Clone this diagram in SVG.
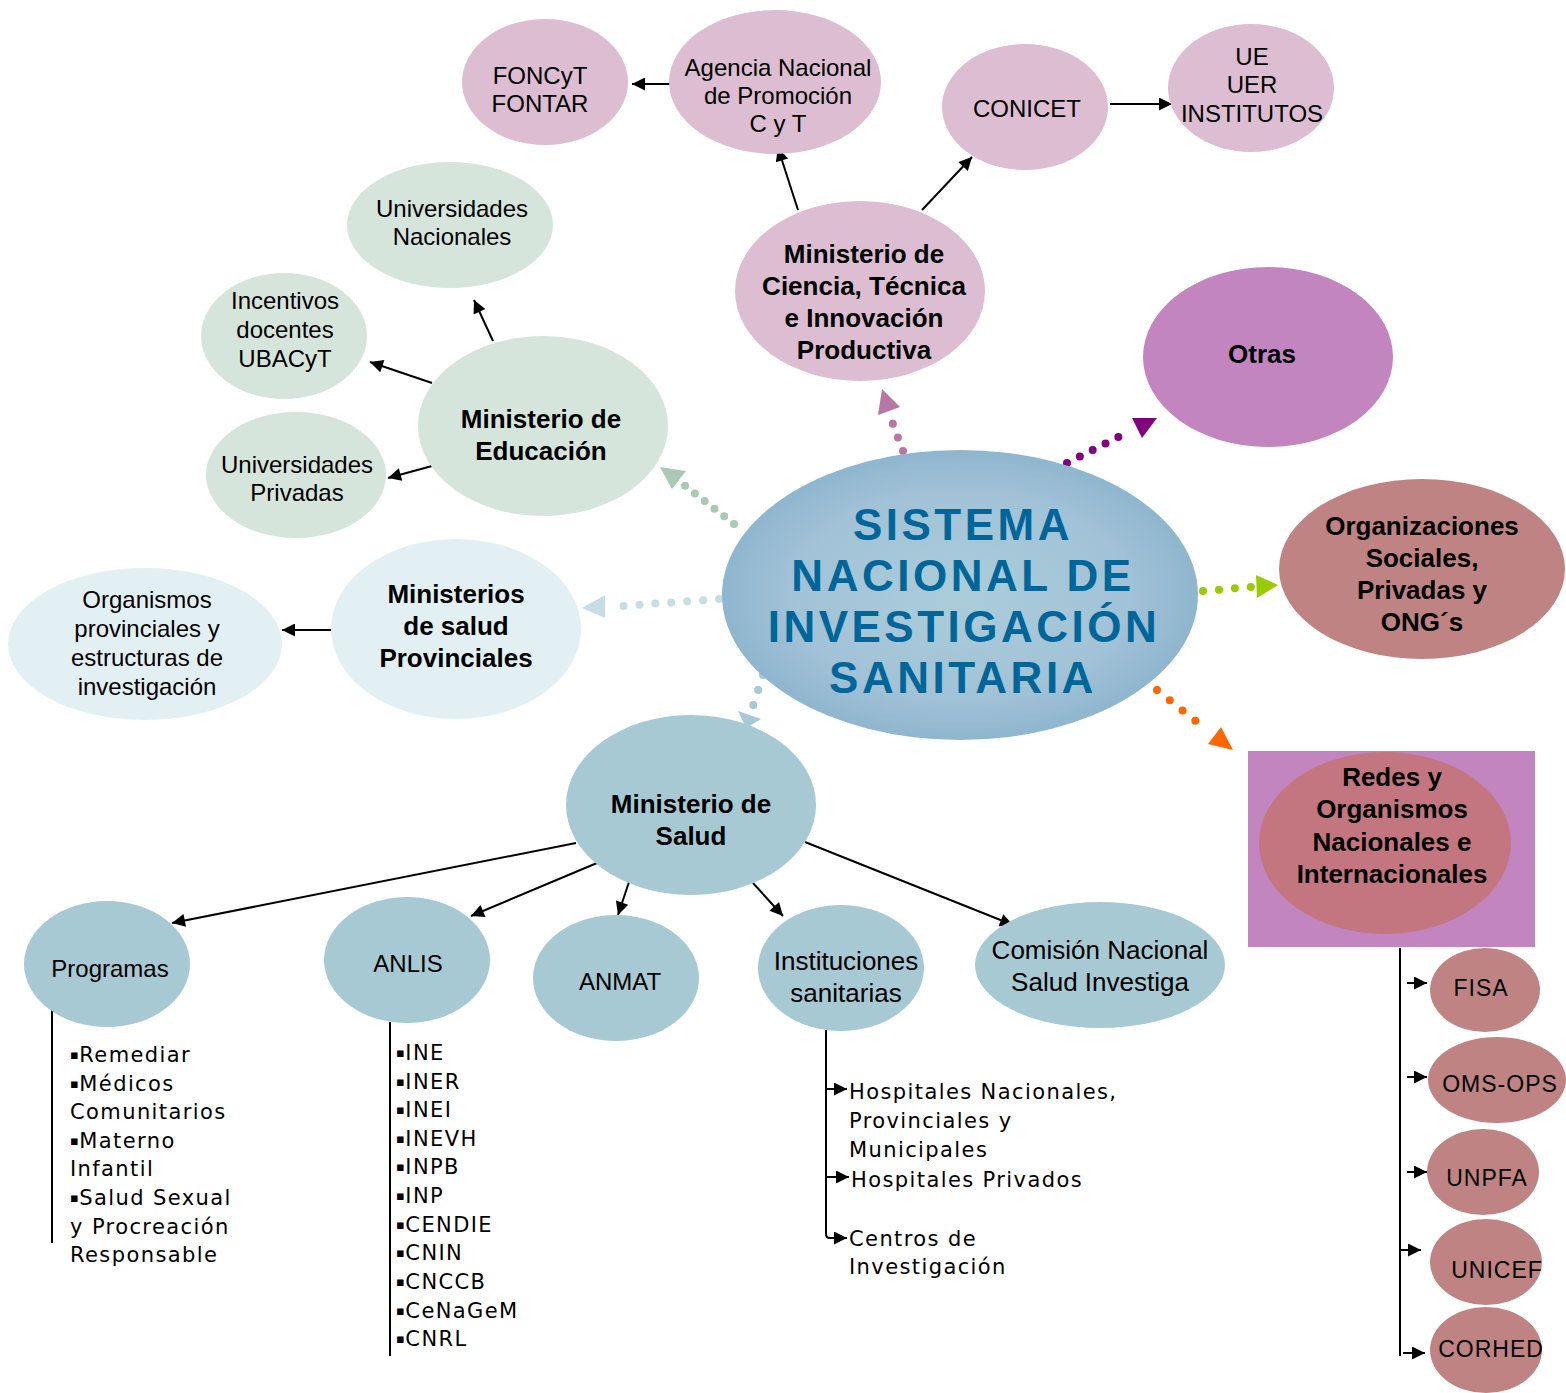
<svg xmlns="http://www.w3.org/2000/svg" width="1566" height="1393" viewBox="0 0 1566 1393">
<defs>
<marker id="arr" viewBox="0 0 10 10" refX="10" refY="5" markerWidth="7.5" markerHeight="6.5" orient="auto" markerUnits="strokeWidth"><path d="M0,0 L10,5 L0,10 z" fill="#000"/></marker>
<radialGradient id="cg" cx="0.5" cy="0.5" r="0.5">
<stop offset="0" stop-color="#abcdd9"/>
<stop offset="0.7" stop-color="#a2c2d7"/>
<stop offset="1" stop-color="#8fb6cf"/>
</radialGradient>
<style>
.t{font-family:"Liberation Sans",Arial,sans-serif;font-size:24px;fill:#000;text-anchor:middle}
.tb{font-family:"Liberation Sans",Arial,sans-serif;font-size:26px;font-weight:bold;fill:#000;text-anchor:middle}
.tm{font-family:"Liberation Sans",Arial,sans-serif;font-size:26px;fill:#000;text-anchor:middle}
.ts{font-family:"Liberation Sans",Arial,sans-serif;font-size:23px;fill:#000;text-anchor:middle;letter-spacing:1px}
.lst{font-family:"DejaVu Sans",Verdana,sans-serif;font-size:21px;fill:#000;letter-spacing:1.4px}
.b{font-size:13px;letter-spacing:0.5px}
.ctr{font-family:"Liberation Sans",Arial,sans-serif;font-size:44px;font-weight:bold;fill:#006699;text-anchor:middle;letter-spacing:3.5px}
.ln{stroke:#000;stroke-width:2;fill:none}
.la{stroke:#000;stroke-width:2;fill:none;marker-end:url(#arr)}
.dot{fill:none;stroke-width:8;stroke-linecap:round}
.pk{fill:#dcbdd1}.gr{fill:#d6e5dc}.lb{fill:#e3f0f3}.bl{fill:#a7c9d3}.pu{fill:#c285c0}.rs{fill:#c08383}
</style>
</defs>
<rect width="1566" height="1393" fill="#fff"/>

<g id="connectors">
<line class="la" x1="672" y1="84" x2="632" y2="84"/>
<line class="la" x1="798" y1="210" x2="778" y2="148"/>
<line class="la" x1="922" y1="210" x2="972" y2="157"/>
<line class="la" x1="1110" y1="104" x2="1172" y2="104"/>
<line class="la" x1="493" y1="341" x2="474" y2="300"/>
<line class="la" x1="432" y1="383" x2="370" y2="362"/>
<line class="la" x1="432" y1="466" x2="388" y2="478"/>
<line class="la" x1="332" y1="630" x2="282" y2="630"/>
<line class="la" x1="576" y1="843" x2="172" y2="923"/>
<line class="la" x1="597" y1="863" x2="471" y2="916"/>
<line class="la" x1="629" y1="882" x2="618" y2="915"/>
<line class="la" x1="753" y1="883" x2="783" y2="916"/>
<line class="la" x1="805" y1="842" x2="1013" y2="925"/>
<line class="ln" x1="52" y1="1010" x2="52" y2="1243"/>
<line class="ln" x1="390" y1="1022" x2="390" y2="1356"/>
<path class="ln" d="M826,1030 V1234 Q826,1238 830,1238"/>
<line class="la" x1="826" y1="1089" x2="847" y2="1089"/>
<line class="la" x1="826" y1="1177" x2="849" y2="1177"/>
<line class="la" x1="828" y1="1238" x2="847" y2="1238"/>
<line class="ln" x1="1400" y1="948" x2="1400" y2="1356"/>
<line class="la" x1="1407" y1="983" x2="1427" y2="983"/>
<line class="la" x1="1407" y1="1077" x2="1427" y2="1077"/>
<line class="la" x1="1407" y1="1172" x2="1427" y2="1172"/>
<line class="la" x1="1401" y1="1250" x2="1421" y2="1250"/>
<line class="la" x1="1403" y1="1353" x2="1425" y2="1353"/>
<g>
<path class="dot" stroke="#b777a4" stroke-dasharray="0 14.5" d="M903,451 L891,419"/>
<polygon fill="#b777a4" points="882,389 900,407 878,415"/>
<path class="dot" stroke="#a9c9b5" stroke-dasharray="0 12.4" d="M734,524 L684,485"/>
<polygon fill="#a9c9b5" points="660,467 686,471 672,489"/>
<path class="dot" stroke="#c4dee4" stroke-dasharray="0 15.95" d="M719,599 L608,607"/>
<polygon fill="#c4dee4" points="605,595 582,608 605,618"/>
<path class="dot" stroke="#800080" stroke-dasharray="0 14.4" d="M1067,463 L1124,434"/>
<polygon fill="#800080" points="1132,418 1157,418 1142,438"/>
<path class="dot" stroke="#99cc00" stroke-dasharray="0 16" d="M1203,591 L1251,587"/>
<polygon fill="#99cc00" points="1256,575 1278,585 1257,598"/>
<path class="dot" stroke="#ff6600" stroke-dasharray="0 16.4" d="M1157,690 L1208,731"/>
<polygon fill="#ff6600" points="1221,727 1233,750 1208,744"/>
<path class="dot" stroke="#a7c9d3" stroke-dasharray="0 15.8" d="M763,675 L753,706"/>
<polygon fill="#a7c9d3" points="738,711 761,719 746,728"/>
</g>
</g>

<g id="foncyt"><ellipse class="pk" cx="545" cy="82" rx="83" ry="63"/><text class="t" x="540" y="84">FONCyT</text><text class="t" x="540" y="112">FONTAR</text></g>
<g id="agencia"><ellipse class="pk" cx="775" cy="82" rx="106" ry="72"/><text class="t" x="778" y="76">Agencia Nacional</text><text class="t" x="778" y="104">de Promoción</text><text class="t" x="778" y="132">C y T</text></g>
<g id="conicet"><ellipse class="pk" cx="1025" cy="107" rx="83" ry="63"/><text class="t" x="1027" y="117">CONICET</text></g>
<g id="ue"><ellipse class="pk" cx="1251" cy="88" rx="83" ry="64"/><text class="t" x="1252" y="65">UE</text><text class="t" x="1252" y="93">UER</text><text class="t" x="1252" y="122">INSTITUTOS</text></g>
<g id="min-ciencia"><ellipse class="pk" cx="860" cy="291" rx="125" ry="90"/><text class="tb" x="864" y="263">Ministerio de</text><text class="tb" x="864" y="295">Ciencia, Técnica</text><text class="tb" x="864" y="327">e Innovación</text><text class="tb" x="864" y="359">Productiva</text></g>
<g id="otras"><ellipse class="pu" cx="1268" cy="357" rx="125" ry="90"/><text class="tb" x="1262" y="363">Otras</text></g>
<g id="univ-nac"><ellipse class="gr" cx="450" cy="225" rx="103" ry="63"/><text class="t" x="452" y="217">Universidades</text><text class="t" x="452" y="245">Nacionales</text></g>
<g id="incentivos"><ellipse class="gr" cx="284" cy="336" rx="83" ry="63"/><text class="t" x="285" y="309">Incentivos</text><text class="t" x="285" y="338">docentes</text><text class="t" x="285" y="367">UBACyT</text></g>
<g id="min-educ"><ellipse class="gr" cx="543" cy="426" rx="125" ry="90"/><text class="tb" x="541" y="428">Ministerio de</text><text class="tb" x="541" y="460">Educación</text></g>
<g id="univ-priv"><ellipse class="gr" cx="296" cy="475" rx="90" ry="63"/><text class="t" x="297" y="473">Universidades</text><text class="t" x="297" y="501">Privadas</text></g>
<g id="min-prov"><ellipse class="lb" cx="456" cy="629" rx="125" ry="90"/><text class="tb" x="456" y="603">Ministerios</text><text class="tb" x="456" y="635">de salud</text><text class="tb" x="456" y="667">Provinciales</text></g>
<g id="org-prov"><ellipse class="lb" cx="145" cy="644" rx="137" ry="76"/><text class="t" x="147" y="608">Organismos</text><text class="t" x="147" y="637">provinciales y</text><text class="t" x="147" y="666">estructuras de</text><text class="t" x="147" y="695">investigación</text></g>
<g id="sistema"><ellipse fill="url(#cg)" cx="960" cy="595" rx="238" ry="145"/><text class="ctr" x="963" y="540">SISTEMA</text><text class="ctr" x="963" y="591">NACIONAL DE</text><text class="ctr" x="964" y="642">INVESTIGACIÓN</text><text class="ctr" x="963" y="693">SANITARIA</text></g>
<g id="org-sociales"><ellipse class="rs" cx="1422" cy="569" rx="143" ry="90"/><text class="tb" x="1422" y="535">Organizaciones</text><text class="tb" x="1422" y="567">Sociales,</text><text class="tb" x="1422" y="599">Privadas y</text><text class="tb" x="1422" y="631">ONG´s</text></g>
<g id="redes"><rect class="pu" x="1248" y="751" width="287" height="196"/><ellipse fill="#c3767f" cx="1385" cy="843" rx="126" ry="91"/><text class="tb" x="1392" y="786">Redes y</text><text class="tb" x="1392" y="818">Organismos</text><text class="tb" x="1392" y="851">Nacionales e</text><text class="tb" x="1392" y="883">Internacionales</text></g>
<g id="min-salud"><ellipse class="bl" cx="691" cy="805" rx="125" ry="90"/><text class="tb" x="691" y="813">Ministerio de</text><text class="tb" x="691" y="845">Salud</text></g>
<g id="programas"><ellipse class="bl" cx="107" cy="964" rx="83" ry="63"/><text class="t" x="110" y="977">Programas</text></g>
<g id="anlis"><ellipse class="bl" cx="407" cy="960" rx="83" ry="63"/><text class="t" x="408" y="972">ANLIS</text></g>
<g id="anmat"><ellipse class="bl" cx="616" cy="978" rx="83" ry="63"/><text class="t" x="620" y="990">ANMAT</text></g>
<g id="instituciones"><ellipse class="bl" cx="841" cy="968" rx="83" ry="63"/><text class="tm" x="846" y="970">Instituciones</text><text class="tm" x="846" y="1002">sanitarias</text></g>
<g id="comision"><ellipse class="bl" cx="1100" cy="965" rx="125" ry="63"/><text class="tm" x="1100" y="959">Comisión Nacional</text><text class="tm" x="1100" y="991">Salud Investiga</text></g>
<g id="fisa"><ellipse class="rs" cx="1485" cy="990" rx="55" ry="42"/><text class="ts" x="1481" y="996">FISA</text></g>
<g id="oms"><ellipse class="rs" cx="1497" cy="1080" rx="69" ry="43"/><text class="ts" x="1500" y="1092">OMS-OPS</text></g>
<g id="unpfa"><ellipse class="rs" cx="1483" cy="1172" rx="56" ry="43"/><text class="ts" x="1487" y="1186">UNPFA</text></g>
<g id="unicef"><ellipse class="rs" cx="1486" cy="1262" rx="56" ry="43"/><text class="ts" x="1497" y="1278">UNICEF</text></g>
<g id="corhed"><ellipse class="rs" cx="1486" cy="1350" rx="56" ry="43"/><text class="ts" x="1491" y="1357">CORHED</text></g>

<g id="lista-programas">
<text class="lst" x="70" y="1062"><tspan class="b" dy="-3">▪</tspan><tspan dy="3">Remediar</tspan></text>
<text class="lst" x="70" y="1091"><tspan class="b" dy="-3">▪</tspan><tspan dy="3">Médicos</tspan></text>
<text class="lst" x="70" y="1119">Comunitarios</text>
<text class="lst" x="70" y="1148"><tspan class="b" dy="-3">▪</tspan><tspan dy="3">Materno</tspan></text>
<text class="lst" x="70" y="1176">Infantil</text>
<text class="lst" x="70" y="1205"><tspan class="b" dy="-3">▪</tspan><tspan dy="3">Salud Sexual</tspan></text>
<text class="lst" x="70" y="1234">y Procreación</text>
<text class="lst" x="70" y="1262">Responsable</text>
</g>
<g id="lista-anlis">
<text class="lst" x="396" y="1060"><tspan class="b" dy="-3">▪</tspan><tspan dy="3">INE</tspan></text>
<text class="lst" x="396" y="1089"><tspan class="b" dy="-3">▪</tspan><tspan dy="3">INER</tspan></text>
<text class="lst" x="396" y="1117"><tspan class="b" dy="-3">▪</tspan><tspan dy="3">INEI</tspan></text>
<text class="lst" x="396" y="1146"><tspan class="b" dy="-3">▪</tspan><tspan dy="3">INEVH</tspan></text>
<text class="lst" x="396" y="1174"><tspan class="b" dy="-3">▪</tspan><tspan dy="3">INPB</tspan></text>
<text class="lst" x="396" y="1203"><tspan class="b" dy="-3">▪</tspan><tspan dy="3">INP</tspan></text>
<text class="lst" x="396" y="1232"><tspan class="b" dy="-3">▪</tspan><tspan dy="3">CENDIE</tspan></text>
<text class="lst" x="396" y="1260"><tspan class="b" dy="-3">▪</tspan><tspan dy="3">CNIN</tspan></text>
<text class="lst" x="396" y="1289"><tspan class="b" dy="-3">▪</tspan><tspan dy="3">CNCCB</tspan></text>
<text class="lst" x="396" y="1318"><tspan class="b" dy="-3">▪</tspan><tspan dy="3">CeNaGeM</tspan></text>
<text class="lst" x="396" y="1346"><tspan class="b" dy="-3">▪</tspan><tspan dy="3">CNRL</tspan></text>
</g>
<g id="lista-instituciones">
<text class="lst" x="849" y="1099">Hospitales Nacionales,</text>
<text class="lst" x="849" y="1128">Provinciales y</text>
<text class="lst" x="849" y="1157">Municipales</text>
<text class="lst" x="851" y="1187">Hospitales Privados</text>
<text class="lst" x="849" y="1246">Centros de</text>
<text class="lst" x="849" y="1274">Investigación</text>
</g>
</svg>
